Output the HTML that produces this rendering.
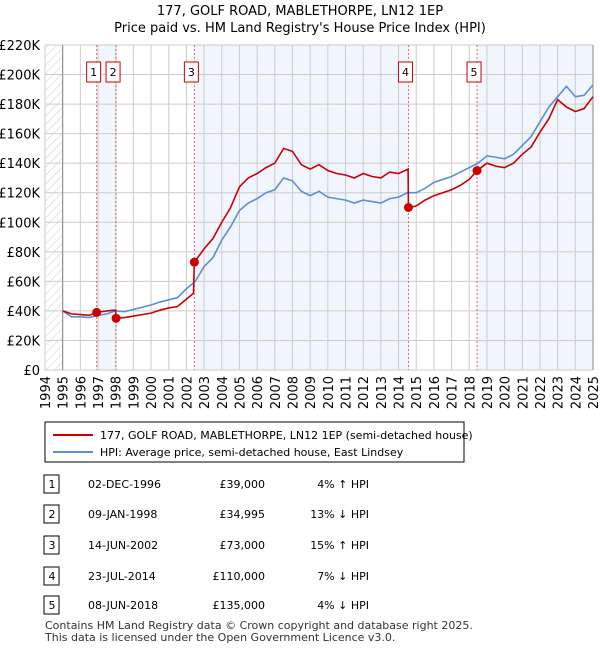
<!DOCTYPE html>
<html><head><meta charset="utf-8"><style>
body{margin:0;background:#fff;font-family:"Liberation Sans","DejaVu Sans",sans-serif;}
svg text{font-family:"DejaVu Sans","Liberation Sans",sans-serif;}
</style></head><body>
<svg id="c" width="600" height="650" xmlns="http://www.w3.org/2000/svg">
<defs><pattern id="hatch" width="6" height="6" patternUnits="userSpaceOnUse" patternTransform="rotate(45)"><line x1="0" y1="0" x2="0" y2="6" stroke="#ccc" stroke-width="1"/></pattern></defs>
<text x="300" y="15" text-anchor="middle" font-size="13">177, GOLF ROAD, MABLETHORPE, LN12 1EP</text>
<text x="300" y="32" text-anchor="middle" font-size="13">Price paid vs. HM Land Registry's House Price Index (HPI)</text>
<g id="plot"></g>
<g>
<rect x="45" y="422" width="419" height="40" fill="#fff" stroke="#000" stroke-width="1"/>
<line x1="53" y1="435" x2="93" y2="435" stroke="#cc0000" stroke-width="2"/>
<text x="100" y="439" font-size="11">177, GOLF ROAD, MABLETHORPE, LN12 1EP (semi-detached house)</text>
<line x1="53" y1="452" x2="93" y2="452" stroke="#5b8fd4" stroke-width="2"/>
<text x="100" y="456" font-size="11">HPI: Average price, semi-detached house, East Lindsey</text>
</g>
<g id="table"></g>
<text x="45" y="629" font-size="11" fill="#333">Contains HM Land Registry data © Crown copyright and database right 2025.</text>
<text x="45" y="641" font-size="11" fill="#333">This data is licensed under the Open Government Licence v3.0.</text>
</svg>
<script>
const hpiDates=[1995,1995.5,1996,1996.5,1997,1997.5,1998,1998.5,1999,1999.5,2000,2000.5,2001,2001.5,2002,2002.5,2003,2003.5,2004,2004.5,2005,2005.5,2006,2006.5,2007,2007.5,2008,2008.5,2009,2009.5,2010,2010.5,2011,2011.5,2012,2012.5,2013,2013.5,2014,2014.5,2015,2015.5,2016,2016.5,2017,2017.5,2018,2018.5,2019,2019.5,2020,2020.5,2021,2021.5,2022,2022.5,2023,2023.5,2024,2024.5,2025];
const hpiValues=[40,36,36,35.5,37,38,40,39.5,41,42.5,44,46,47.5,49,55,60,70,76,88,97,108,113,116,120,122,130,128,121,118,121,117,116,115,113,115,114,113,116,117,120,120,123,127,129,131,134,137,140,145,144,143,146,152,158,168,178,185,192,185,186,193];
const priceDates=[1995,1995.5,1996,1996.5,1996.92,1997.5,1997.99,1998.03,1998.5,1999,1999.5,2000,2000.5,2001,2001.5,2002,2002.4,2002.45,2003,2003.5,2004,2004.5,2005,2005.5,2006,2006.5,2007,2007.5,2008,2008.5,2009,2009.5,2010,2010.5,2011,2011.5,2012,2012.5,2013,2013.5,2014,2014.54,2014.56,2015,2015.5,2016,2016.5,2017,2017.5,2018,2018.44,2019,2019.5,2020,2020.5,2021,2021.5,2022,2022.5,2023,2023.5,2024,2024.5,2025];
const priceValues=[40,38,37.5,37,39,40,40.5,35,35.5,36.5,37.5,38.5,40.5,42,43,48,52,73,82,89,100,110,124,130,133,137,140,150,148,139,136,139,135,133,132,130,133,131,130,134,133,136,110,111,115,118,120,122,125,129,135,140,138,137,140,146,151,161,170,183,178,175,177,185];
const saleDates=[1996.92,1998.02,2002.45,2014.56,2018.44];
const saleValues=[39,34.995,73,110,135];
const saleLabels=["1","2","3","4","5"];
const saleDateText=["02-DEC-1996","09-JAN-1998","14-JUN-2002","23-JUL-2014","08-JUN-2018"];
const salePriceText=["£39,000","£34,995","£73,000","£110,000","£135,000"];
const saleHpiText=["4% ↑ HPI","13% ↓ HPI","15% ↑ HPI","7% ↓ HPI","4% ↓ HPI"];
const yTicks=[0,20,40,60,80,100,120,140,160,180,200,220];
const yTickLabels=["£0","£20K","£40K","£60K","£80K","£100K","£120K","£140K","£160K","£180K","£200K","£220K"];
const xYears=[1994,1995,1996,1997,1998,1999,2000,2001,2002,2003,2004,2005,2006,2007,2008,2009,2010,2011,2012,2013,2014,2015,2016,2017,2018,2019,2020,2021,2022,2023,2024,2025];

const NS="http://www.w3.org/2000/svg";
const X0=45,X1=593,Y0=370,Y1=45;
const xs=d=>X0+(d-1994)/31*(X1-X0);
const ys=v=>Y0-v/220*(Y0-Y1);
const g=document.getElementById('plot');
function mk(tag,attrs,parent){const e=document.createElementNS(NS,tag);for(const k in attrs)e.setAttribute(k,attrs[k]);(parent||g).appendChild(e);return e;}
// shaded bands
const bands=[[saleDates[0],saleDates[1]],[saleDates[2],saleDates[3]],[saleDates[4],2025]];
bands.forEach(b=>{const r=mk('rect',{x:xs(b[0]),y:Y1,width:xs(b[1])-xs(b[0]),height:Y0-Y1,fill:'#eef3fc',opacity:0.8});

});
const h=mk('rect',{x:X0,y:Y1,width:xs(1995)-X0,height:Y0-Y1,fill:'url(#hatch)'});


// grid
yTicks.forEach((t,i)=>{const l=mk('line',{x1:X0,x2:X1,y1:ys(t),y2:ys(t),stroke:'#ccc','stroke-width':1});


const tx=mk('text',{x:40,y:ys(t)+5,'text-anchor':'end','font-size':13});tx.textContent=yTickLabels[i];

});
xYears.forEach(yr=>{const l=mk('line',{x1:xs(yr),x2:xs(yr),y1:Y1,y2:Y0,stroke:'#ccc','stroke-width':1});


const tx=mk('text',{x:0,y:0,'text-anchor':'end','font-size':13,transform:`translate(${xs(yr)+5},376) rotate(-90)`});tx.textContent=yr;

});
const ax=mk('line',{x1:xs(1995),x2:xs(1995),y1:Y1,y2:Y0,stroke:'#888','stroke-width':1});


const ax2=mk('line',{x1:X1,x2:X1,y1:Y1,y2:Y0,stroke:'#888','stroke-width':1});


// sale lines + labels
saleDates.forEach((d,i)=>{const l=mk('line',{x1:xs(d),x2:xs(d),y1:Y1,y2:Y0,stroke:'#f06060','stroke-width':1,'stroke-dasharray':'2,2'});


const r=mk('rect',{x:xs(d)-10,y:62,width:14,height:20,fill:'#fff',stroke:'#cc0000','stroke-width':1});


const t=mk('text',{x:xs(d)-3,y:76,'text-anchor':'middle','font-size':11});t.textContent=saleLabels[i];

});
function line(dates,vals,color,name){const p=mk('polyline',{points:dates.map((d,i)=>xs(d)+','+ys(vals[i])).join(' '),fill:'none',stroke:color,'stroke-width':1.6});

}
line(hpiDates,hpiValues,'#5b8fd4','hpi-line');
line(priceDates,priceValues,'#cc0000','price-paid-line');
saleDates.forEach((d,i)=>{const c=mk('circle',{cx:xs(d),cy:ys(saleValues[i]),r:4.5,fill:'#cc0000'});

});
// table
const tb=document.getElementById('table');
const rowY=[484,514,545,576,605];
saleLabels.forEach((s,i)=>{const y=rowY[i];
const r=mk('rect',{x:44,y:y-9,width:15,height:18,fill:'#fff',stroke:'#000','stroke-width':1},tb);


const cells=[[52,s,'middle'],[88,saleDateText[i],'start'],[265,salePriceText[i],'end'],[369,saleHpiText[i],'end']];
cells.forEach(c=>{const t=mk('text',{x:c[0],y:y+4,'text-anchor':c[2],'font-size':11},tb);t.textContent=c[1];

});});
</script>
</body></html>
